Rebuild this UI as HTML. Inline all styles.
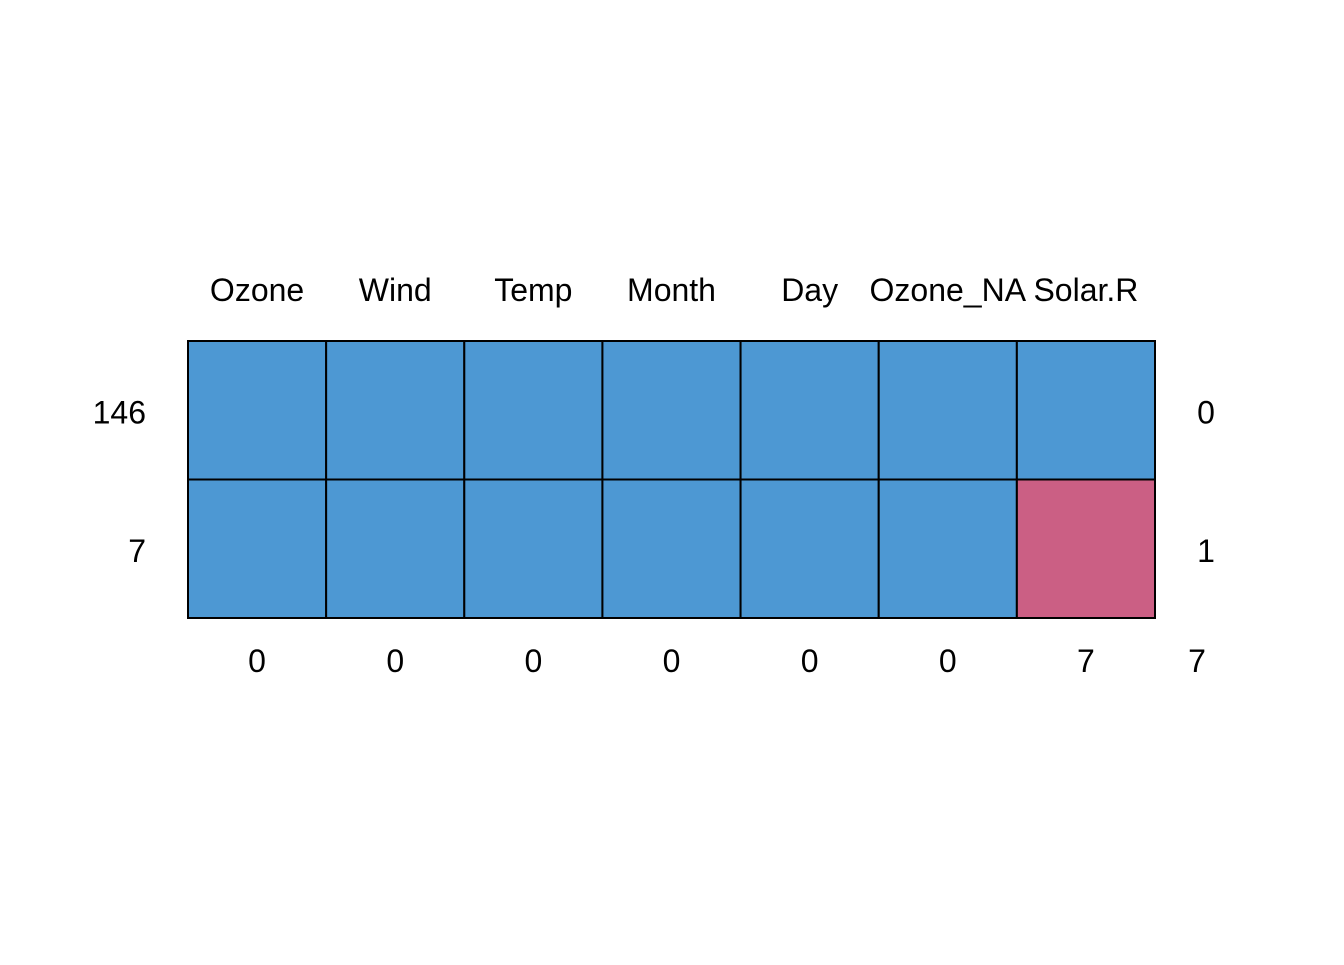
<!DOCTYPE html>
<html><head><meta charset="utf-8">
<style>
html,body{margin:0;padding:0;background:#fff;}
svg text{font-family:"Liberation Sans",Arial,sans-serif;font-size:32px;fill:#000;}
</style></head>
<body>
<svg id="chart" width="1344" height="960" xmlns="http://www.w3.org/2000/svg"></svg>
<script>
const columns = ["Ozone","Wind","Temp","Month","Day","Ozone_NA","Solar.R"];
const patternCounts = [146, 7];
const row0 = [1,1,1,1,1,1,1];
const row1 = [1,1,1,1,1,1,0];
const rowMissing = [0, 1];
const colMissing = [0,0,0,0,0,0,7];
const totalMissing = 7;

const patterns = [row0, row1];
const svg = document.getElementById('chart');
const NS = "http://www.w3.org/2000/svg";
const x0 = 188, x1 = 1155, y0 = 341, y1 = 618;
const cw = (x1 - x0) / columns.length;
const rh = (y1 - y0) / patterns.length;
const xs = i => x0 + i * cw;
const ys = j => y0 + j * rh;

function mk(tag, attrs, text) {
  const e = document.createElementNS(NS, tag);
  for (const k in attrs) e.setAttribute(k, attrs[k]);
  if (text !== undefined) e.textContent = text;
  svg.appendChild(e);
  return e;
}

patterns.forEach((row, j) => {
  row.forEach((v, i) => {
    const r = mk('rect', {x: xs(i), y: ys(j), width: cw, height: rh,
      fill: v ? '#4D98D3' : '#CB5F84', stroke: '#000', 'stroke-width': 2});
    
    
  });
});

columns.forEach((c, i) => {
  const t = mk('text', {x: xs(i) + cw / 2, y: 301, 'text-anchor': 'middle'}, c);
  
  
  const b = mk('text', {x: xs(i) + cw / 2, y: 672, 'text-anchor': 'middle'}, colMissing[i]);
  
  
});

const tot = mk('text', {x: 1197, y: 672, 'text-anchor': 'middle'}, totalMissing);



patternCounts.forEach((n, j) => {
  const l = mk('text', {x: 146, y: ys(j) + rh / 2 + 13, 'text-anchor': 'end'}, n);
  
  
  const r = mk('text', {x: 1206, y: ys(j) + rh / 2 + 13, 'text-anchor': 'middle'}, rowMissing[j]);
  
  
});
</script>
</body></html>
